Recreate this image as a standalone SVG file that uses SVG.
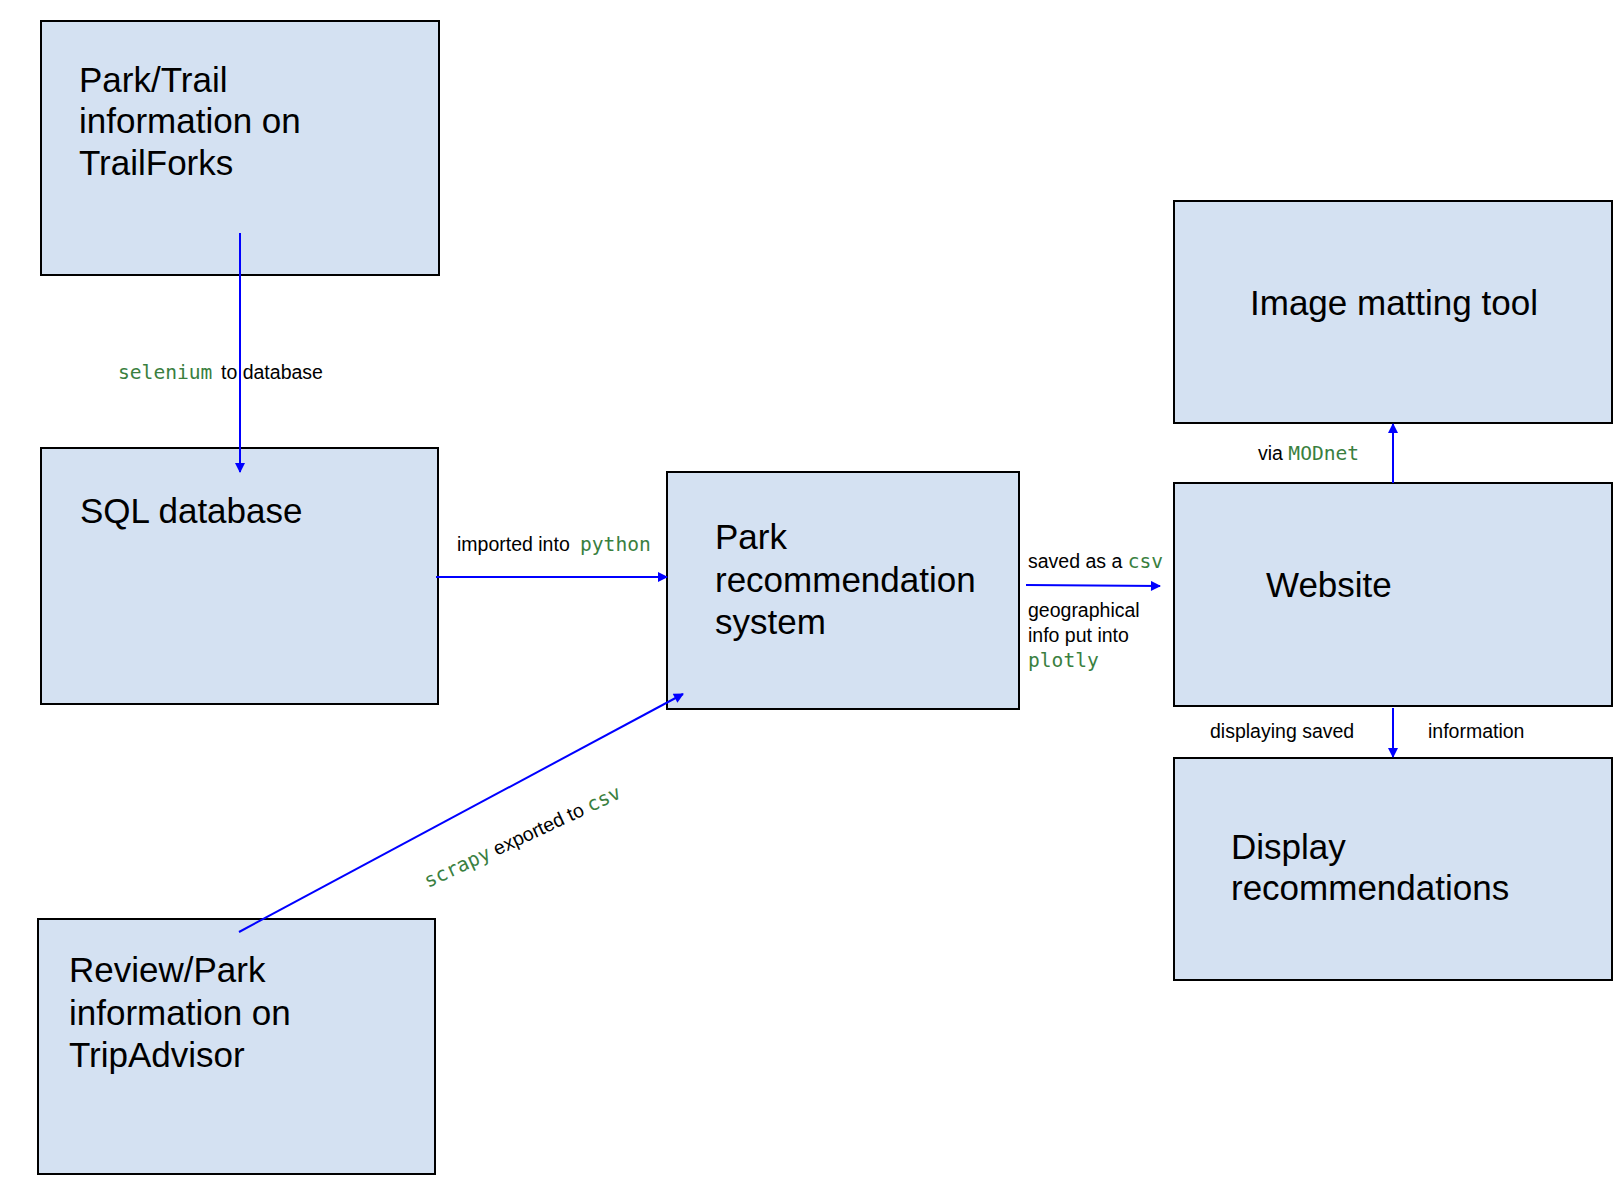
<svg xmlns="http://www.w3.org/2000/svg" width="1620" height="1200" viewBox="0 0 1620 1200">
<defs>
<style>
.box{fill:#d4e1f2;stroke:#000;stroke-width:2}
.t{font-family:"Liberation Sans",Arial,sans-serif;font-size:35px;fill:#000}
.l{font-family:"Liberation Sans",Arial,sans-serif;font-size:19.5px;fill:#000}
.m{font-family:"DejaVu Sans Mono","Liberation Mono",monospace;font-size:19.6px;fill:#3a7f3f}
.c{stroke:#0000ff;stroke-width:2;fill:none;marker-end:url(#ah)}
</style>
<marker id="ah" viewBox="0 0 10 10" refX="9" refY="5" markerWidth="5.5" markerHeight="5" orient="auto" markerUnits="strokeWidth">
<path d="M0,0 L10,5 L0,10 z" fill="#0000ff"/>
</marker>
</defs>
<rect width="1620" height="1200" fill="#fff"/>
<g id="node-trailforks">
<rect class="box" x="41" y="21" width="398" height="254"/>
<text class="t" x="79" y="92">Park/Trail</text>
<text class="t" x="79" y="133">information on</text>
<text class="t" x="79" y="175">TrailForks</text>
</g>
<g id="node-sql">
<rect class="box" x="41" y="448" width="397" height="256"/>
<text class="t" x="80" y="523">SQL database</text>
</g>
<g id="node-tripadvisor">
<rect class="box" x="38" y="919" width="397" height="255"/>
<text class="t" x="69" y="982">Review/Park</text>
<text class="t" x="69" y="1025">information on</text>
<text class="t" x="69" y="1067">TripAdvisor</text>
</g>
<g id="node-recsys">
<rect class="box" x="667" y="472" width="352" height="237"/>
<text class="t" x="715" y="549">Park</text>
<text class="t" x="715" y="592">recommendation</text>
<text class="t" x="715" y="634">system</text>
</g>
<g id="node-matting">
<rect class="box" x="1174" y="201" width="438" height="222"/>
<text class="t" x="1250" y="315">Image matting tool</text>
</g>
<g id="node-website">
<rect class="box" x="1174" y="483" width="438" height="223"/>
<text class="t" x="1266" y="597">Website</text>
</g>
<g id="node-display">
<rect class="box" x="1174" y="758" width="438" height="222"/>
<text class="t" x="1231" y="859">Display</text>
<text class="t" x="1231" y="900">recommendations</text>
</g>
<g id="connectors">
<line class="c" x1="240" y1="233" x2="240" y2="472"/>
<line class="c" x1="436" y1="577" x2="667" y2="577"/>
<line class="c" x1="239" y1="932" x2="683" y2="694"/>
<line class="c" x1="1026" y1="585" x2="1160" y2="586"/>
<line class="c" x1="1393" y1="483" x2="1393" y2="424"/>
<line class="c" x1="1393" y1="708" x2="1393" y2="757"/>
</g>
<g id="labels">
<text x="118" y="379"><tspan class="m">selenium</tspan><tspan class="l" x="221">to database</tspan></text>
<text x="457" y="551"><tspan class="l">imported into </tspan><tspan class="m" x="580">python</tspan></text>
<text transform="translate(428,888) rotate(-25)"><tspan class="m">scrapy</tspan><tspan class="l"> exported to </tspan><tspan class="m">csv</tspan></text>
<text x="1028" y="568"><tspan class="l">saved as a </tspan><tspan class="m">csv</tspan></text>
<text class="l" x="1028" y="617">geographical</text>
<text class="l" x="1028" y="642">info put into</text>
<text class="m" x="1028" y="667">plotly</text>
<text x="1258" y="460"><tspan class="l">via </tspan><tspan class="m">MODnet</tspan></text>
<text class="l" x="1210" y="738">displaying saved</text>
<text class="l" x="1428" y="738">information</text>
</g>
</svg>
